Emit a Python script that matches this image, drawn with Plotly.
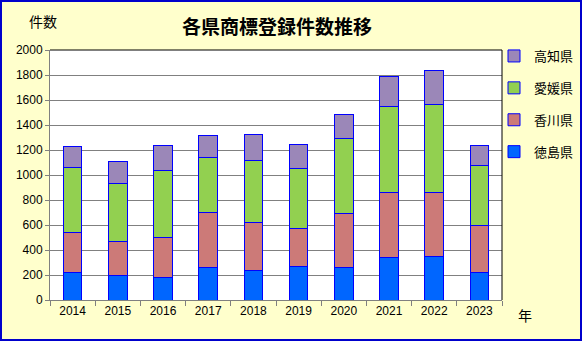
import plotly.graph_objects as go

# Trademark registrations per prefecture (Shikoku), by year
years = ["2014", "2015", "2016", "2017", "2018", "2019", "2020", "2021", "2022", "2023"]
tokushima = [222, 195, 181, 261, 237, 269, 261, 341, 349, 221]
kagawa = [320, 274, 320, 440, 384, 304, 432, 520, 512, 376]
ehime = [520, 464, 536, 440, 496, 480, 600, 688, 704, 480]
kochi = [168, 174, 198, 174, 206, 192, 192, 243, 272, 160]

# stacking order bottom -> top; legend lists them top -> bottom reversed
series = [
    ("徳島県", tokushima, "#0066FF"),
    ("香川県", kagawa, "#CC7A78"),
    ("愛媛県", ehime, "#92D050"),
    ("高知県", kochi, "#9B87B8"),
]

JP = "Noto Sans CJK JP"
NUM = "Liberation Sans, Arial, sans-serif"
EDGE = "#0000FF"
GRID = "#808080"

fig = go.Figure()
for i, (name, vals, color) in enumerate(series):
    fig.add_trace(go.Bar(
        x=years, y=vals, name=name, legendgroup=name,
        legendrank=len(series) - i,
        marker=dict(color=color, line=dict(color=EDGE, width=1)),
    ))

W, H = 582, 341
ml, mr, mt, mb = 50, 80, 50, 41
pw, ph = W - ml - mr, H - mt - mb


def px_x(p):
    return (p - ml) / pw


def px_y(p):
    return (H - mb - p) / ph


fig.update_layout(
    width=W, height=H,
    margin=dict(l=ml, r=mr, t=mt, b=mb, pad=0, autoexpand=False),
    paper_bgcolor="#FFFFCC",
    plot_bgcolor="#FFFFFF",
    barmode="stack",
    bargap=0.59,
    font=dict(family=JP, size=12, color="#000000"),
    title=dict(
        text="<b>各県商標登録件数推移</b>",
        font=dict(family=JP, size=19, color="#000000"),
        x=px_x(277), xref="paper", xanchor="center",
        y=1 - 27 / H, yref="container", yanchor="middle",
    ),
    xaxis=dict(
        type="category",
        tickson="boundaries",
        ticks="outside", ticklen=5, tickcolor=GRID, tickwidth=1,
        showline=True, linecolor=GRID, linewidth=1,
        showgrid=False,
        tickfont=dict(family=NUM, size=12),
    ),
    yaxis=dict(
        range=[0, 2000], dtick=200,
        ticks="outside", ticklen=4, tickcolor=GRID, tickwidth=1,
        showline=True, linecolor=GRID, linewidth=1,
        showgrid=True, gridcolor=GRID, gridwidth=1,
        zeroline=False,
        tickfont=dict(family=NUM, size=12),
    ),
    legend=dict(
        x=px_x(494), xanchor="left",
        y=px_y(41), yanchor="top",
        traceorder="grouped",
        tracegroupgap=12,
        itemwidth=30,
        font=dict(family=JP, size=13),
        bgcolor="rgba(0,0,0,0)",
    ),
    shapes=[
        # black frame on the top and right of the plot area
        dict(type="line", xref="paper", yref="paper", x0=0, x1=1, y0=1, y1=1,
             line=dict(color="#000000", width=1)),
        dict(type="line", xref="paper", yref="paper", x0=1, x1=1, y0=0, y1=1,
             line=dict(color="#000000", width=1)),
        # blue border around the whole chart
        dict(type="rect", xref="paper", yref="paper",
             x0=px_x(1), x1=px_x(W - 1), y0=px_y(H - 1), y1=px_y(1),
             line=dict(color="#0000CC", width=2), layer="above"),
    ],
    annotations=[
        dict(text="件数", xref="paper", yref="paper", x=px_x(43), y=px_y(21),
             xanchor="center", yanchor="middle", showarrow=False,
             font=dict(family=JP, size=14)),
        dict(text="年", xref="paper", yref="paper", x=px_x(525), y=px_y(315),
             xanchor="center", yanchor="middle", showarrow=False,
             font=dict(family=JP, size=14)),
    ],
)

fig.write_html("out.html")
